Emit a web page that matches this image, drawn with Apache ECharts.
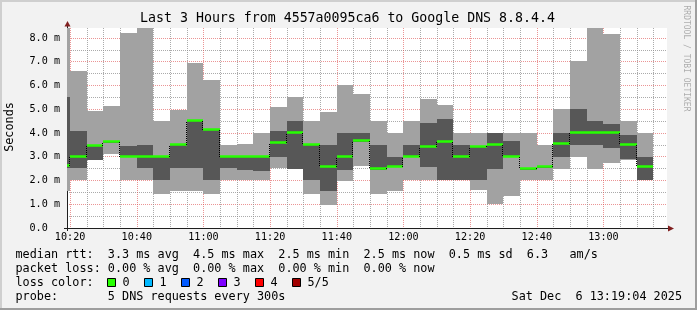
<!DOCTYPE html>
<html><head><meta charset="utf-8">
<script src="https://cdn.jsdelivr.net/npm/echarts@6/dist/echarts.min.js"></script>
<style>html,body{margin:0;padding:0;background:#f2f2f2}#c{width:697px;height:310px}</style>
</head><body><div id="c"></div>
<script>
// ---- data ----
const windowStart = '10:19:04';
const windowEnd = '13:19:04';
const stepSeconds = 300;
// end time of each 5-minute step
const endTimes = ['10:20','10:25','10:30','10:35','10:40','10:45','10:50','10:55','11:00','11:05','11:10','11:15',
  '11:20','11:25','11:30','11:35','11:40','11:45','11:50','11:55','12:00','12:05','12:10','12:15',
  '12:20','12:25','12:30','12:35','12:40','12:45','12:50','12:55','13:00','13:05','13:10','13:15'];
// sorted ping rtts (ms) of the 5 DNS requests per step
const ping1 = [1.54,2.00,2.87,3.12,2.00,2.00,1.45,1.54,1.54,1.45,2.00,2.00,2.00,2.52,2.50,1.45,0.98,1.96,2.63,1.45,1.54,2.00,2.00,2.00,2.00,1.58,1.00,1.36,2.00,2.00,2.50,3.00,2.50,2.75,2.88,2.00];
const ping2 = [2.53,2.52,2.88,3.56,2.98,2.52,2.00,2.52,2.52,2.00,2.52,2.45,2.41,3.00,2.50,2.00,1.54,2.45,3.60,2.45,2.55,2.98,2.57,2.00,2.00,2.00,2.50,2.98,2.45,2.53,3.00,3.48,3.48,3.38,2.89,2.00];
const median = [2.59,3.00,3.45,3.61,3.00,3.00,3.00,3.49,4.49,4.12,3.00,3.00,3.00,3.56,4.01,3.48,2.57,2.97,3.65,2.47,2.57,3.00,3.42,3.61,3.00,3.42,3.50,3.00,2.47,2.55,3.52,4.01,4.01,4.01,3.49,2.55];
const ping4 = [5.50,4.07,3.48,3.63,3.46,3.50,3.02,3.53,4.52,4.15,3.02,3.02,3.02,4.10,4.52,3.50,3.48,4.01,4.01,3.48,3.00,3.48,4.43,4.60,3.48,3.45,4.01,3.65,2.50,2.57,4.01,5.02,4.52,4.39,3.93,3.00];
const ping5 = [8.45,6.62,4.91,5.15,8.22,8.42,4.49,4.98,6.96,6.24,3.48,3.55,4.01,5.11,5.53,4.49,4.90,6.03,5.65,4.49,4.01,4.49,5.44,5.19,4.01,4.01,4.01,4.01,4.01,3.48,5.02,7.04,8.42,8.18,4.49,4.01];
// tick labels
const xLabelTimes = ['10:20','10:40','11:00','11:20','11:40','12:00','12:20','12:40','13:00'];
const yLabelValues = [0,1,2,3,4,5,6,7,8];
const yGridValues = [0,0.5,1,1.5,2,2.5,3,3.5,4,4.5,5,5.5,6,6.5,7,7.5,8];
const yMax = 8.42;
// texts
const titleText = 'Last 3 Hours from 4557a0095ca6 to Google DNS 8.8.4.4';
const legendLines = [
  'median rtt:  3.3 ms avg  4.5 ms max  2.5 ms min  2.5 ms now  0.5 ms sd  6.3   am/s',
  'packet loss: 0.00 % avg  0.00 % max  0.00 % min  0.00 % now',
  'loss color:',
  'probe:       5 DNS requests every 300s'
];
const lossLabels = ['0','1','2','3','4','5/5'];
const lossColors = ['#26ff00','#00b8ff','#0059ff','#7e00ff','#ff0000','#a10000'];
const dateText = 'Sat Dec  6 13:19:04 2025';

// ---- styles ----
const MONO = '"DejaVu Sans Mono", monospace';
const LEGEND_FONT = '11.8px ' + MONO;
const GRID = 'rgba(143,143,143,0.75)';
const MGRID = 'rgba(222,79,79,0.6)';
const AXIS = '#1f1f1f';
const ARROW = '#801f1f';
const LIGHT = '#a2a2a2';
const DARK = '#575757';

const toSec = s => { const p = s.split(':').map(Number); return p[0]*3600 + p[1]*60 + (p[2]||0); };
const fmtTime = v => { const h = Math.floor(v/3600), m = Math.round((v%3600)/60); return h + ':' + String(m).padStart(2,'0'); };

const data = endTimes.map((t,i) => [toSec(t), ping1[i], ping2[i], median[i], ping4[i], ping5[i]]);

function renderItem(params, api) {
  const cs = params.coordSys;
  const clipR = {x: cs.x, y: cs.y, width: cs.width, height: cs.height};
  const t1 = api.value(0), t0 = t1 - stepSeconds;
  const X0 = Math.round(api.coord([t0, 0])[0]);
  const X1 = Math.round(api.coord([t1, 0])[0]);
  const Y = v => Math.round(api.coord([t1, v])[1]);
  const children = [];
  const addRect = (lo, hi, fill) => {
    const r = echarts.graphic.clipRectByRect({x: X0, y: Y(hi), width: X1 - X0, height: Y(lo) - Y(hi)}, clipR);
    if (r && r.width > 0 && r.height > 0) children.push({type: 'rect', shape: r, style: {fill: fill}});
  };
  addRect(api.value(1), api.value(5), LIGHT);
  addRect(api.value(2), api.value(4), DARK);
  const ym = Y(api.value(3));
  const idx = params.dataIndexInside;
  if (idx > 0) {
    const yp = Y(api.value(3, idx - 1));
    if (yp !== ym) children.push({type: 'line', shape: {x1: X0 - 0.5, y1: yp, x2: X0 - 0.5, y2: ym},
      style: {stroke: '#000', lineWidth: 1, lineDash: [1, 1]}});
  }
  const gx0 = Math.max(X0, cs.x);
  children.push({type: 'line', shape: {x1: gx0, y1: ym - 0.5, x2: X1, y2: ym - 0.5},
    style: {stroke: lossColors[0], lineWidth: 2.5}});
  return {type: 'group', children: children};
}

const legendY = [255, 269, 283, 297];
const graphics = [
  {type: 'rect', shape: {x: 0, y: 0, width: 697, height: 2}, style: {fill: '#cfcfcf'}, silent: true},
  {type: 'rect', shape: {x: 0, y: 0, width: 2, height: 310}, style: {fill: '#cfcfcf'}, silent: true},
  {type: 'rect', shape: {x: 0, y: 308, width: 697, height: 2}, style: {fill: '#9e9e9e'}, silent: true},
  {type: 'rect', shape: {x: 695, y: 0, width: 2, height: 310}, style: {fill: '#9e9e9e'}, silent: true},
  {type: 'text', x: 347.5, y: 19, style: {text: titleText, font: '13.25px ' + MONO, fill: '#000', align: 'center', verticalAlign: 'middle'}},
  {type: 'text', x: 10, y: 127, rotation: Math.PI / 2, style: {text: 'Seconds', font: LEGEND_FONT, fill: '#000', align: 'center', verticalAlign: 'middle'}},
  {type: 'text', x: 686, y: 58.5, rotation: -Math.PI / 2, style: {text: 'RRDTOOL / TOBI OETIKER', font: '8px ' + MONO, fill: 'rgba(0,0,0,0.3)', align: 'center', verticalAlign: 'middle'}},
  // axis extensions and arrows
  {type: 'line', shape: {x1: 67.5, y1: 26, x2: 67.5, y2: 28}, style: {stroke: AXIS, lineWidth: 1}},
  {type: 'line', shape: {x1: 67.5, y1: 228, x2: 67.5, y2: 231}, style: {stroke: AXIS, lineWidth: 1}},
  {type: 'line', shape: {x1: 64, y1: 228.5, x2: 668, y2: 228.5}, style: {stroke: AXIS, lineWidth: 1}},
  {type: 'polygon', shape: {points: [[64.5, 26.5], [70.5, 26.5], [67.5, 21]]}, style: {fill: ARROW}},
  {type: 'polygon', shape: {points: [[668, 225.5], [668, 231.5], [674, 228.5]]}, style: {fill: ARROW}},
  {type: 'text', x: 682, y: legendY[3], style: {text: dateText, font: LEGEND_FONT, fill: '#000', align: 'right', verticalAlign: 'middle'}}
];
legendLines.forEach((t, i) => graphics.push({type: 'text', x: 15.5, y: legendY[i],
  style: {text: t, font: LEGEND_FONT, fill: '#000', align: 'left', verticalAlign: 'middle'}}));
lossLabels.forEach((t, i) => {
  const bx = 107.5 + i * 37;
  graphics.push({type: 'rect', shape: {x: bx, y: 278.5, width: 8, height: 8}, style: {fill: lossColors[i], stroke: '#000', lineWidth: 1}});
  graphics.push({type: 'text', x: bx + 15, y: legendY[2], style: {text: t, font: LEGEND_FONT, fill: '#000', align: 'left', verticalAlign: 'middle'}});
});

const chart = echarts.init(document.getElementById('c'), null, {renderer: 'canvas'});
chart.setOption({
  backgroundColor: '#f2f2f2',
  animation: false,
  grid: {left: 67, top: 28, width: 600, height: 200, show: true, backgroundColor: '#ffffff', borderWidth: 0},
  xAxis: {
    type: 'value', min: toSec(windowStart), max: toSec(windowEnd),
    axisLine: {show: true, lineStyle: {color: AXIS, width: 1}},
    axisTick: {show: true, customValues: endTimes.map(toSec), length: 1, lineStyle: {color: 'rgba(0,0,0,0)'}},
    axisLabel: {customValues: xLabelTimes.map(toSec), formatter: fmtTime, fontFamily: 'DejaVu Sans Mono', fontSize: 10.15, color: '#000', margin: 4},
    splitLine: {show: true, lineStyle: {color: [MGRID, GRID, GRID, GRID], type: [1, 1], width: 1}}
  },
  yAxis: {
    type: 'value', min: 0, max: yMax,
    axisLine: {show: true, lineStyle: {color: AXIS, width: 1}},
    axisTick: {show: true, customValues: yGridValues, length: 1, lineStyle: {color: 'rgba(0,0,0,0)'}},
    axisLabel: {customValues: yLabelValues, formatter: v => v === 0 ? '0.0  ' : v.toFixed(1) + ' m',
      fontFamily: 'DejaVu Sans Mono', fontSize: 10.15, color: '#000', margin: 7},
    splitLine: {show: true, lineStyle: {color: [MGRID, GRID], type: [1, 1], width: 1}}
  },
  series: [{type: 'custom', renderItem: renderItem, data: data, encode: {x: 0, y: [1, 2, 3, 4, 5]}, z: 2}],
  graphic: graphics
});
</script>
</body></html>
